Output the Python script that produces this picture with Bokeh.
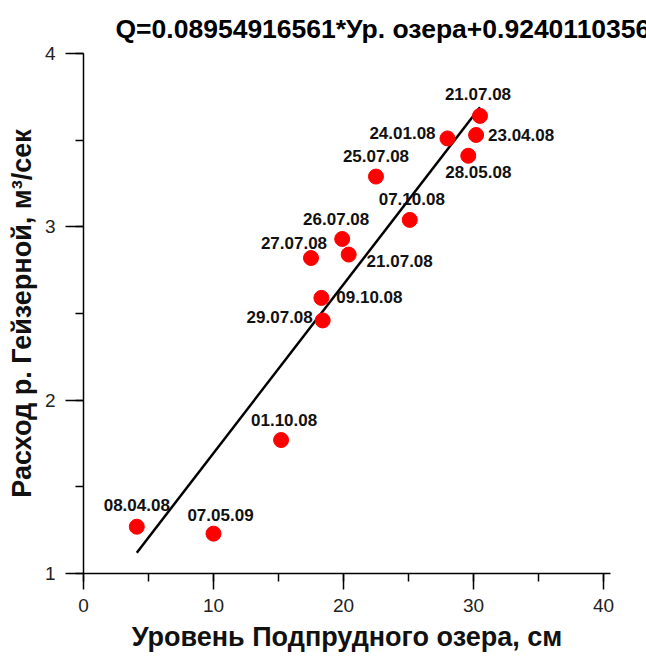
from bokeh.plotting import figure
from bokeh.models import ColumnDataSource, SingleIntervalTicker, Range1d
from bokeh.embed import file_html
from bokeh.resources import INLINE
from bokeh.core.properties import value

# ---- data ----
dates = ["08.04.08", "07.05.09", "01.10.08", "29.07.08", "09.10.08", "27.07.08", "26.07.08",
         "21.07.08", "25.07.08", "07.10.08", "24.01.08", "23.04.08", "28.05.08", "21.07.08"]
level = [4.1, 10.0, 15.2, 18.4, 18.3, 17.5, 19.9, 20.4, 22.5, 25.1, 28.0, 30.2, 29.6, 30.5]
discharge = [1.27, 1.23, 1.77, 2.46, 2.59, 2.82, 2.93, 2.84, 3.29, 3.04, 3.51, 3.53, 3.41, 3.64]

fit_x = [4.1, 30.5]
fit_y = [1.12, 3.69]

title_text = "Q=0.08954916561*Ур. озера+0.9240110356"
x_label = "Уровень Подпрудного озера, см"
y_label = "Расход р. Гейзерной, м³/сек"

# label placement (screen px offsets of label centre from point)
lab_dx = [0, 7, 3, -43, 48, -17, -6, 51, 0, 2, -45, 45, 10, -2]
lab_dy = [-22, -19, -20, -3, -1, -15, -20, 6, -21, -21, -5, 0, 16, -22]

FONT = "Liberation Sans"

p = figure(width=646, height=659, output_backend="svg", toolbar_location=None,
           x_range=Range1d(0, 40.54), y_range=Range1d(1, 4),
           min_border_left=83, min_border_right=36, min_border_top=53, min_border_bottom=86)
p.outline_line_color = None
p.grid.visible = False
p.background_fill_color = "white"
p.border_fill_color = "white"

p.title.text = title_text
p.title.text_font = FONT
p.title.text_font_size = "26.5px"
p.title.text_font_style = "bold"
p.title.text_color = "black"
p.title.align = "left"
p.title.offset = 32
p.title.standoff = 20

for ax in (p.xaxis[0], p.yaxis[0]):
    ax.axis_line_color = "black"
    ax.axis_line_width = 1.5
    ax.major_tick_line_color = "black"
    ax.major_tick_line_width = 1.5
    ax.minor_tick_line_color = "black"
    ax.minor_tick_line_width = 1.5
    ax.major_tick_in = 0
    ax.minor_tick_in = 0
    ax.major_label_text_font = FONT
    ax.major_label_text_font_size = "19px"
    ax.major_label_text_color = "#222222"
    ax.axis_label_text_font = FONT
    ax.axis_label_text_font_size = "27px"
    ax.axis_label_text_font_style = "bold"
    ax.axis_label_text_color = "#111111"

p.xaxis.ticker = SingleIntervalTicker(interval=10, num_minor_ticks=2)
p.yaxis.ticker = SingleIntervalTicker(interval=1, num_minor_ticks=2)
p.xaxis.major_tick_out = 16
p.xaxis.minor_tick_out = 8
p.yaxis.major_tick_out = 18
p.yaxis.minor_tick_out = 8
p.xaxis.major_label_standoff = 9
p.yaxis.major_label_standoff = 10
p.xaxis.axis_label = x_label
p.yaxis.axis_label = y_label
p.xaxis.axis_label_standoff = 7
p.yaxis.axis_label_standoff = 5

src = ColumnDataSource(dict(x=level, y=discharge, t=dates, dx=lab_dx, dy=lab_dy))

p.line(fit_x, fit_y, line_color="black", line_width=2.5)
p.scatter("x", "y", source=src, size=15, fill_color="#ff0000", line_color="#ff0000")
p.text("x", "y", text="t", source=src, x_offset="dx", y_offset="dy",
       text_align="center", text_baseline="middle",
       text_font=value(FONT), text_font_size="17px", text_font_style="bold",
       text_color="#111111")

open("out.html", "w").write(file_html(p, INLINE))
